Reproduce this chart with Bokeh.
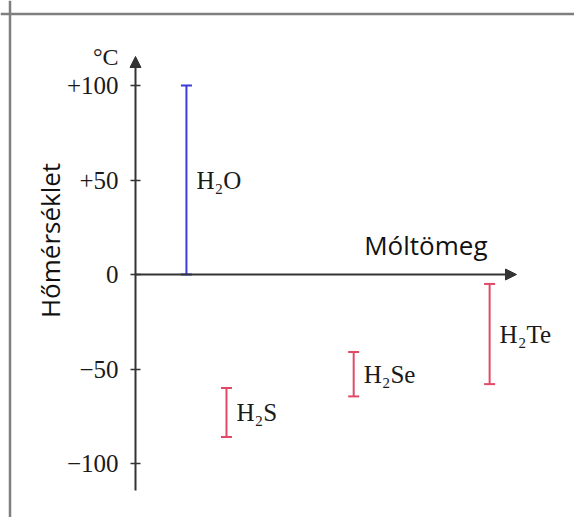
from math import pi
from bokeh.plotting import figure
from bokeh.models import (ColumnDataSource, Range1d, LinearAxis, FixedTicker,
                          Arrow, NormalHead, Label, Span)
from bokeh.embed import file_html
from bokeh.resources import INLINE
from bokeh.core.properties import value

# ---- data ----
compounds = ["H₂O", "H₂S", "H₂Se", "H₂Te"]
x_pos = [18.7, 33.4, 80.1, 130.0]          # position along the "Móltömeg" axis
melting = [0, -86, -64.5, -58]              # lower end of each bar (°C)
boiling = [100, -60, -41, -5]               # upper end of each bar (°C)
colors = ["#3c3cd4", "#e04a66", "#e04a66", "#e04a66"]
y_ticks = [-100, -50, 0, 50, 100]
y_tick_labels = ["−100", "−50", "0", "+50", "+100"]

# ---- geometry ----
W, H = 574, 517
X0_PX, XSCALE = 135, 2.724     # canvas px of x=0, px per unit
Y0_PX, YSCALE = 274, 1.89      # canvas px of y=0, px per unit


def dx(px):
    return (px - X0_PX) / XSCALE


def dy(py):
    return (Y0_PX - py) / YSCALE


p = figure(width=W, height=H,
           x_range=Range1d(dx(0), dx(W)), y_range=Range1d(dy(H), dy(0)),
           x_axis_type=None, y_axis_type=None,
           output_backend="svg", toolbar_location=None, min_border=0)
p.outline_line_color = None
p.background_fill_color = "white"
p.border_fill_color = "white"

# frame border of the original picture (left and top edges)
p.add_layout(Span(location=dx(9.5), dimension="height", line_color="#7f7f7f", line_width=2.5))
p.add_layout(Span(location=dy(13.5), dimension="width", line_color="#7f7f7f", line_width=2.5))

# y axis at x = 0
yaxis = LinearAxis(fixed_location=0, ticker=FixedTicker(ticks=y_ticks),
                   major_label_overrides={t: s for t, s in zip(y_ticks, y_tick_labels)})
yaxis.axis_line_color = None
yaxis.major_tick_in = 5
yaxis.major_tick_out = 5
yaxis.major_tick_line_color = "#333333"
yaxis.major_tick_line_width = 1.5
yaxis.minor_tick_line_color = None
yaxis.major_label_text_font = "Liberation Serif"
yaxis.major_label_text_font_size = "25px"
yaxis.major_label_text_color = "#1a1a1a"
yaxis.major_label_standoff = 12
p.add_layout(yaxis, "left")

# axis arrows
Y_AXIS_BOTTOM, Y_AXIS_TOP = dy(490), dy(56)
X_AXIS_END = dx(516)
p.add_layout(Arrow(end=NormalHead(size=11, fill_color="#333333", line_color="#333333"),
                   x_start=0, y_start=Y_AXIS_BOTTOM, x_end=0, y_end=Y_AXIS_TOP,
                   line_color="#333333", line_width=2))
p.add_layout(Arrow(end=NormalHead(size=11, fill_color="#333333", line_color="#333333"),
                   x_start=0, y_start=0, x_end=X_AXIS_END, y_end=0,
                   line_color="#333333", line_width=2))

# bars
mid = [(a + b) / 2 for a, b in zip(melting, boiling)]
src = ColumnDataSource(dict(x=x_pos, lo=melting, hi=boiling, mid=mid,
                            color=colors, name=compounds))
p.segment(x0="x", y0="lo", x1="x", y1="hi", line_color="color", line_width=2, source=src)
p.scatter(x="x", y="lo", marker="dash", size=11, line_color="color", line_width=2, source=src)
p.scatter(x="x", y="hi", marker="dash", size=11, line_color="color", line_width=2, source=src)
p.text(x="x", y="mid", text="name", x_offset=10, text_baseline="middle",
       text_font=value("Liberation Serif"), text_font_size="25px",
       text_color="#1a1a1a", source=src)

# axis titles
p.add_layout(Label(x=0, y=Y_AXIS_TOP, x_offset=-17, text="°C", text_align="right",
                   text_baseline="middle", text_font="Liberation Serif",
                   text_font_size="24px", text_color="#1a1a1a"))
p.add_layout(Label(x=dx(487), y=dy(244), text="Móltömeg", text_align="right",
                   text_baseline="alphabetic", text_font="Open Sans",
                   text_font_size="26px", text_color="#111111"))
p.add_layout(Label(x=dx(49), y=dy(240), text="Hőmérséklet", angle=pi / 2,
                   text_align="center", text_baseline="middle", text_font="Open Sans",
                   text_font_size="26px", text_color="#111111"))

open("out.html", "w").write(file_html(p, INLINE))
